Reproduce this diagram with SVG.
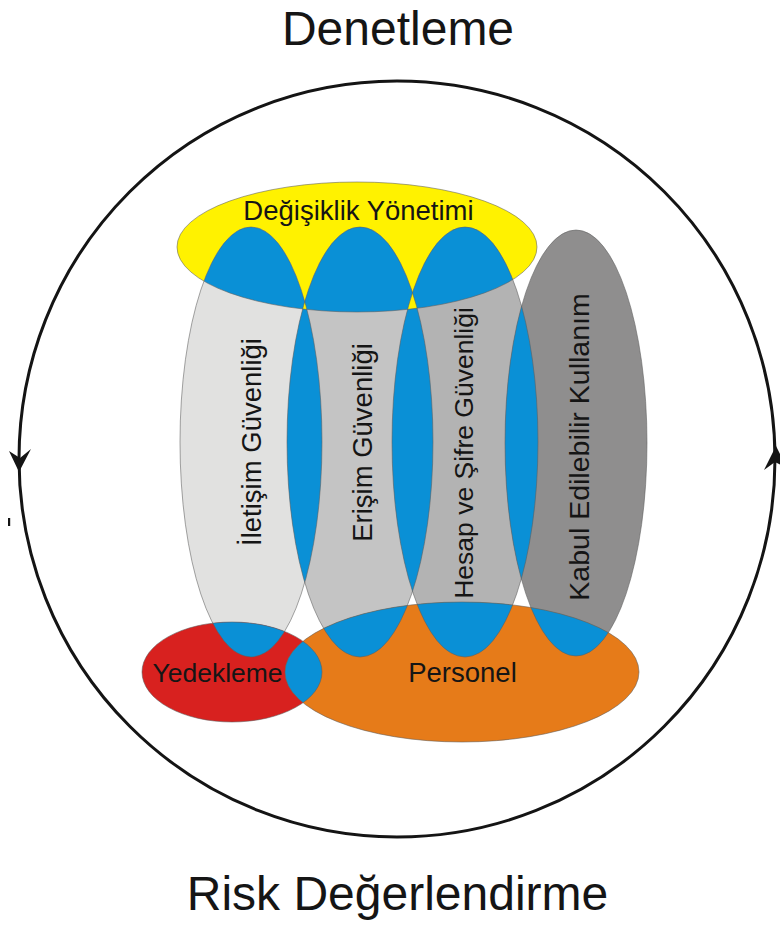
<svg xmlns="http://www.w3.org/2000/svg" width="780" height="925" viewBox="0 0 780 925">
  <style>
    .lbl { font-family: "Liberation Sans", Arial, sans-serif; fill: #151515; }
    .big { font-size: 48px; text-anchor: middle; }
    .mid { font-size: 27.5px; text-anchor: middle; }
    .edge { fill: none; stroke: #5e5e5e; stroke-width: 0.8; stroke-opacity: 0.7; }
    .blue { fill: #0a90d6; }
    .cycle { fill: none; stroke: #141414; stroke-width: 3; }
    .head { fill: #141414; }
  </style>
  <defs>
    <ellipse id="shY" cx="357" cy="247" rx="180" ry="65"/>
    <ellipse id="sh1" cx="251" cy="442" rx="71" ry="215"/>
    <ellipse id="sh2" cx="360" cy="442" rx="73" ry="215"/>
    <ellipse id="sh3" cx="465" cy="442" rx="73" ry="215"/>
    <ellipse id="sh4" cx="576" cy="443" rx="71" ry="213"/>
    <ellipse id="shR" cx="232" cy="672" rx="90" ry="50"/>
    <ellipse id="shO" cx="462" cy="672" rx="177" ry="70"/>
    <clipPath id="cY"><use href="#shY"/></clipPath>
    <clipPath id="c1"><use href="#sh1"/></clipPath>
    <clipPath id="c2"><use href="#sh2"/></clipPath>
    <clipPath id="c3"><use href="#sh3"/></clipPath>
    <clipPath id="cR"><use href="#shR"/></clipPath>
    <clipPath id="cO"><use href="#shO"/></clipPath>
  </defs>

  <rect width="780" height="925" fill="#ffffff"/>

  <!-- cycle around the whole model -->
  <g id="connectors">
    <circle class="cycle" cx="397" cy="459" r="378"/>
    <path class="head" d="M19,472 L9,451 L20,458 L31,449 Z"/>
    <path class="head" d="M776,446 L764,470 L775,462 L787,468 Z"/>
    <rect x="8" y="518" width="2.2" height="8" fill="#141414"/>
  </g>

  <!-- base shapes -->
  <g id="degisiklik-yonetimi"><use href="#shY" fill="#fff200"/></g>
  <g id="iletisim-guvenligi"><use href="#sh1" fill="#e1e1e0"/></g>
  <g id="erisim-guvenligi"><use href="#sh2" fill="#c4c4c4"/></g>
  <g id="hesap-sifre-guvenligi"><use href="#sh3" fill="#b3b3b3"/></g>
  <g id="kabul-edilebilir-kullanim"><use href="#sh4" fill="#8f8e8e"/></g>
  <g id="yedekleme"><use href="#shR" fill="#d8211f"/></g>
  <g id="personel"><use href="#shO" fill="#e67b19"/></g>

  <!-- overlaps of two areas are blue -->
  <g id="overlaps">
    <use href="#sh1" class="blue" clip-path="url(#cY)"/>
    <use href="#sh2" class="blue" clip-path="url(#cY)"/>
    <use href="#sh3" class="blue" clip-path="url(#cY)"/>
    <use href="#sh2" class="blue" clip-path="url(#c1)"/>
    <use href="#sh3" class="blue" clip-path="url(#c2)"/>
    <use href="#sh4" class="blue" clip-path="url(#c3)"/>
    <use href="#sh1" class="blue" clip-path="url(#cR)"/>
    <use href="#shO" class="blue" clip-path="url(#cR)"/>
    <use href="#sh2" class="blue" clip-path="url(#cO)"/>
    <use href="#sh3" class="blue" clip-path="url(#cO)"/>
    <use href="#sh4" class="blue" clip-path="url(#cO)"/>
    <!-- three-way overlaps keep the outer colour -->
    <g clip-path="url(#c1)"><use href="#sh2" fill="#fff200" clip-path="url(#cY)"/></g>
    <g clip-path="url(#c2)"><use href="#sh3" fill="#fff200" clip-path="url(#cY)"/></g>
    <g clip-path="url(#c2)"><use href="#sh3" fill="#e67b19" clip-path="url(#cO)"/></g>
    <g clip-path="url(#c3)"><use href="#sh4" fill="#e67b19" clip-path="url(#cO)"/></g>
  </g>

  <!-- outlines -->
  <g id="outlines">
    <use href="#shY" class="edge"/>
    <use href="#sh1" class="edge"/>
    <use href="#sh2" class="edge"/>
    <use href="#sh3" class="edge"/>
    <use href="#sh4" class="edge"/>
    <use href="#shR" class="edge"/>
    <use href="#shO" class="edge"/>
  </g>

  <!-- labels -->
  <g id="labels">
    <text class="lbl big" x="398" y="45">Denetleme</text>
    <text class="lbl big" x="397.5" y="910">Risk Değerlendirme</text>
    <text class="lbl mid" x="358.5" y="220">Değişiklik Yönetimi</text>
    <text class="lbl mid" transform="translate(261,442) rotate(-90)">İletişim Güvenliği</text>
    <text class="lbl mid" transform="translate(372,442.5) rotate(-90)">Erişim Güvenliği</text>
    <text class="lbl mid" style="font-size:26.5px" transform="translate(473,453) rotate(-90)">Hesap ve Şifre Güvenliği</text>
    <text class="lbl mid" style="font-size:28.5px" transform="translate(589,447) rotate(-90)">Kabul Edilebilir Kullanım</text>
    <text class="lbl mid" style="font-size:26.5px" x="217.5" y="682">Yedekleme</text>
    <text class="lbl mid" x="462.5" y="682">Personel</text>
  </g>
</svg>
